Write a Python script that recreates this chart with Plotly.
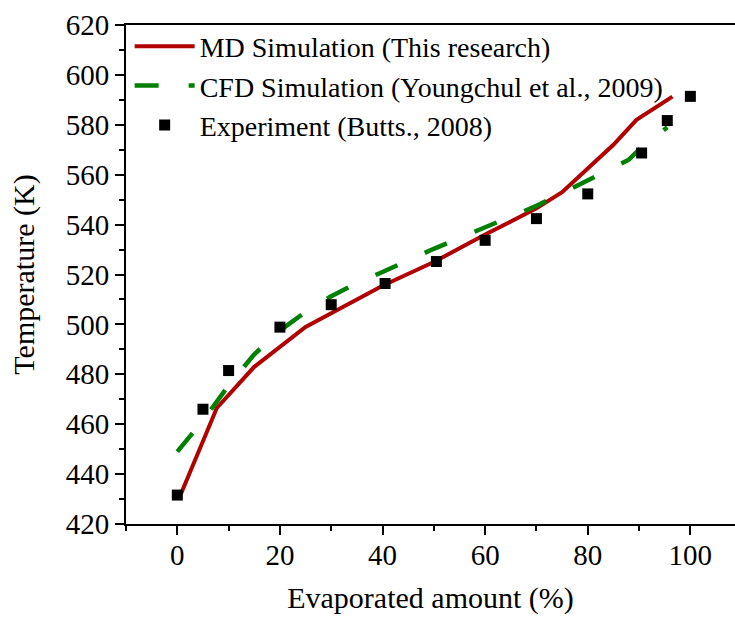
import plotly.graph_objects as go

# Experiment (Butts., 2008)
exp_x = [0, 5, 10, 20, 30, 40.5, 50.5, 60, 70, 80, 90.5, 95.5, 100]
exp_T = [431.6, 466.0, 481.5, 498.9, 507.9, 516.4, 525.2, 533.7, 542.4, 552.3, 568.7, 581.7, 591.4]

# MD Simulation (This research)
md_x = [0.7, 7.7, 15, 25, 30, 40, 50, 60, 70, 75, 80, 85, 89.5, 96.5]
md_T = [432.0, 466.5, 483.0, 499.0, 504.5, 515.5, 525.0, 536.0, 546.5, 553.0, 562.5, 572.0, 582.0, 591.3]

# CFD Simulation (Youngchul et al., 2009)
cfd_x = [0, 5, 10, 15, 20, 25, 30, 35, 40, 45, 50, 55, 60, 65, 70, 75, 80, 85, 88, 90, 95.5]
cfd_T = [449.0, 461.5, 475.5, 488.0, 497.5, 505.0, 511.3, 516.5, 521.0, 525.7, 530.3, 534.6, 538.9, 543.2,
         547.5, 552.6, 557.8, 562.5, 566.0, 570.0, 579.0]

FONT = "Liberation Serif, Times New Roman, DejaVu Serif, serif"

fig = go.Figure()
fig.add_trace(go.Scatter(x=md_x, y=md_T, mode="lines", name="MD Simulation (This research)",
                         line=dict(color="#B00000", width=4)))
fig.add_trace(go.Scatter(x=cfd_x, y=cfd_T, mode="lines", name="CFD Simulation (Youngchul et al., 2009)",
                         line=dict(color="#008000", width=4.5, dash="24px,30px")))
fig.add_trace(go.Scatter(x=exp_x, y=exp_T, mode="markers", name="Experiment (Butts., 2008)",
                         marker=dict(symbol="square", size=11, color="black")))

axis_common = dict(
    showline=True, linecolor="black", linewidth=2,
    ticks="outside", ticklen=9, tickwidth=2, tickcolor="black",
    showgrid=False, zeroline=False,
    tickfont=dict(family=FONT, size=29, color="black"),
)

fig.update_layout(
    width=735, height=619,
    margin=dict(l=126, r=0, t=25, b=95),
    paper_bgcolor="white", plot_bgcolor="white",
    font=dict(family=FONT, color="black"),
    xaxis=dict(range=[-10, 108.7], dtick=20, tick0=0, mirror=True, ticklabelstandoff=-5,
               minor=dict(dtick=10, ticks="outside", ticklen=5, tickwidth=2, tickcolor="black"),
               title=dict(text="Evaporated amount (%)", font=dict(family=FONT, size=30), standoff=17),
               **axis_common),
    yaxis=dict(range=[420, 620], dtick=20, tick0=420,
               minor=dict(dtick=10, ticks="outside", ticklen=5, tickwidth=2, tickcolor="black"),
               title=dict(text="Temperature (K)", font=dict(family=FONT, size=30), standoff=22),
               **axis_common),
    legend=dict(x=0.006, y=1.007, xanchor="left", yanchor="top", bgcolor="rgba(0,0,0,0)",
                font=dict(family=FONT, size=28, color="black"), tracegroupgap=0, itemwidth=60),
    showlegend=True,
)

fig.write_html("out.html")
